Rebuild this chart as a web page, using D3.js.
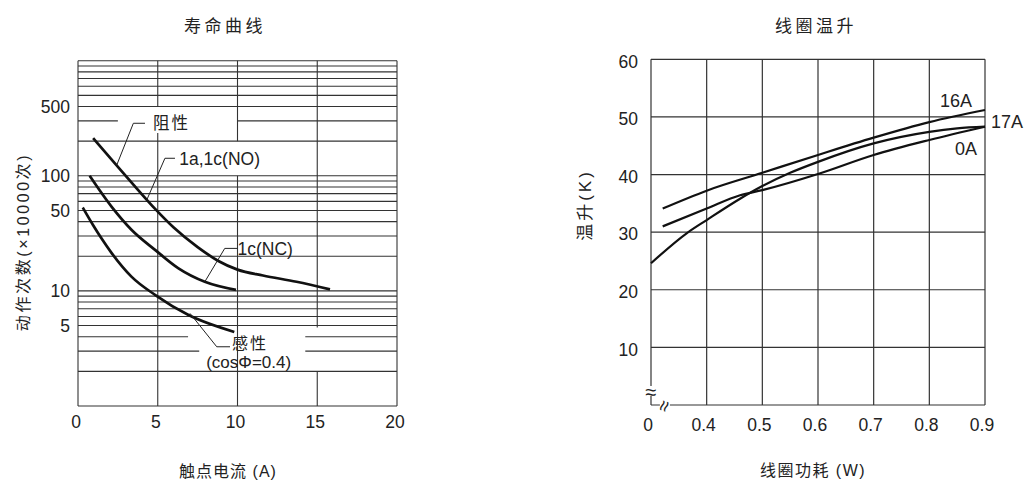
<!DOCTYPE html>
<html>
<head>
<meta charset="utf-8">
<script src="https://cdn.jsdelivr.net/npm/d3@7"></script>
<style>
  body { margin: 0; background: #fff; }
  text { font-family: "Liberation Sans", Arial, "Noto Sans CJK SC", sans-serif; fill: #222; }
</style>
</head>
<body>
<script>
// ---- left chart: 寿命曲线 ----
var lifeXTicks = [0, 5, 10, 15, 20];
var lifeYTicks = [5, 10, 50, 100, 400];
var lifeYTickLabels = ["5", "10", "50", "100", "500"];

var resistiveX = [0.95, 2.3, 3.5, 4.85, 6, 7.5, 8.8, 10, 11.6, 13.7, 15.8];
var resistiveY = [212, 129, 83, 51.3, 35.5, 24.0, 18.2, 15.3, 13.6, 12.0, 10.3];
var ncX = [0.73, 2.1, 3.35, 4.85, 6.3, 7.95, 9.9];
var ncY = [100, 54, 34, 22.6, 15.7, 12.0, 10.2];
var inductiveX = [0.3, 0.95, 1.5, 2.1, 3.35, 4.85, 6.9, 9.8];
var inductiveY = [53, 37.2, 28.2, 21.4, 13.3, 9.2, 6.2, 4.4];

// gaps in grid lines left for the labels
var hGaps = [{ v: 300, from: 2.5, to: 10 }, { v: 4, from: 6.9, to: 14.25 }, { v: 3, from: 7.6, to: 14.25 }];
var vGaps = [{ v: 5, from: 235, to: 400 }, { v: 10, from: 100, to: 200 }, { v: 15, from: 2, to: 4.8 }];

// ---- right chart: 线圈温升 ----
var riseXTicks = [0.3, 0.4, 0.5, 0.6, 0.7, 0.8, 0.9];
var riseXTickLabels = ["0", "0.4", "0.5", "0.6", "0.7", "0.8", "0.9"];
var riseYTicks = [10, 20, 30, 40, 50, 60];

var a16X = [0.321, 0.4, 0.5, 0.6, 0.7, 0.8, 0.9];
var a16Y = [34.1, 37.2, 40.3, 43.4, 46.4, 49.1, 51.2];
var a0X = [0.321, 0.4, 0.46, 0.5, 0.6, 0.7, 0.8, 0.9];
var a0Y = [31.0, 34.1, 36.4, 37.3, 40.1, 43.4, 46.0, 48.3];
var a17X = [0.3, 0.364, 0.4, 0.46, 0.5, 0.55, 0.6, 0.7, 0.8, 0.85, 0.9];
var a17Y = [24.6, 29.8, 32.1, 35.8, 38.0, 40.3, 42.2, 45.4, 47.4, 48.0, 48.3];

var svg = d3.select("body").append("svg")
  .attr("width", 1025)
  .attr("height", 482);

function zip(xs, ys) {
  return xs.map(function (x, i) { return [x, ys[i]]; });
}

// split [a,b] by gaps
function pieces(a, b, gaps) {
  var out = [], cur = a;
  gaps.sort(function (p, q) { return p.from - q.from; }).forEach(function (g) {
    out.push([cur, g.from]);
    cur = g.to;
  });
  out.push([cur, b]);
  return out;
}

var gridColor = "#333";

// ================= left =================
var xL = d3.scaleLinear().domain([0, 20]).range([78, 397]);
var yL = d3.scaleLog().domain([1, 1000]).range([406, 60.7]);
var gL = svg.append("g");

yL.ticks().forEach(function (v) {
  var gaps = hGaps.filter(function (g) { return g.v === v; });
  pieces(0, 20, gaps).forEach(function (p) {
    gL.append("line")
      .attr("x1", xL(p[0])).attr("x2", xL(p[1]))
      .attr("y1", yL(v)).attr("y2", yL(v))
      .attr("stroke", gridColor).attr("stroke-width", 1.1);
  });
});

lifeXTicks.forEach(function (v) {
  var gaps = vGaps.filter(function (g) { return g.v === v; });
  pieces(1, 1000, gaps).forEach(function (p) {
    gL.append("line")
      .attr("x1", xL(v)).attr("x2", xL(v))
      .attr("y1", yL(p[0])).attr("y2", yL(p[1]))
      .attr("stroke", gridColor).attr("stroke-width", 1.1);
  });
});

gL.selectAll(".xt").data(lifeXTicks).enter().append("text")
  .attr("x", function (d) { return xL(d) - 2; })
  .attr("y", 428)
  .attr("text-anchor", "middle")
  .attr("font-size", 17.5)
  .text(function (d) { return d; });

gL.selectAll(".yt").data(lifeYTicks).enter().append("text")
  .attr("x", 70)
  .attr("y", function (d) { return yL(d); })
  .attr("dy", "0.36em")
  .attr("text-anchor", "end")
  .attr("font-size", 17.5)
  .text(function (d, i) { return lifeYTickLabels[i]; });

var lineL = d3.line()
  .x(function (d) { return xL(d[0]); })
  .y(function (d) { return yL(d[1]); })
  .curve(d3.curveMonotoneX);

[zip(resistiveX, resistiveY), zip(ncX, ncY), zip(inductiveX, inductiveY)].forEach(function (s) {
  gL.append("path").attr("d", lineL(s))
    .attr("fill", "none").attr("stroke", "#111").attr("stroke-width", 2.7);
});

// leader lines
var leaders = [
  [[2.43, 124], [3.47, 286], [4.2, 286]],
  [[4.31, 61.6], [5.45, 142], [6.08, 142]],
  [[7.95, 12.0], [9.2, 23.4], [10, 23.4]],
  [[7.02, 6.38], [8.7, 3.27], [9.53, 3.27]]
];
var leaderLine = d3.line()
  .x(function (d) { return xL(d[0]); })
  .y(function (d) { return yL(d[1]); });
leaders.forEach(function (l) {
  gL.append("path").attr("d", leaderLine(l))
    .attr("fill", "none").attr("stroke", "#222").attr("stroke-width", 1);
});

gL.append("text").attr("x", xL(4.7)).attr("y", yL(286)).attr("dy", "0.36em")
  .attr("font-size", 16.5).attr("letter-spacing", 2).text("阻性");
gL.append("text").attr("x", xL(6.35)).attr("y", yL(142)).attr("dy", "0.36em")
  .attr("font-size", 17.5).text("1a,1c(NO)");
gL.append("text").attr("x", xL(10.0)).attr("y", yL(23.4)).attr("dy", "0.36em")
  .attr("font-size", 17.5).text("1c(NC)");
gL.append("text").attr("x", xL(9.65)).attr("y", 349)
  .attr("font-size", 16).attr("letter-spacing", 2).text("感性");
gL.append("text").attr("x", xL(10.7)).attr("y", 368)
  .attr("text-anchor", "middle").attr("font-size", 17).text("(cosΦ=0.4)");

gL.append("text").attr("x", 225).attr("y", 32)
  .attr("text-anchor", "middle").attr("font-size", 17).attr("letter-spacing", 3.5)
  .text("寿命曲线");
gL.append("text").attr("x", 228).attr("y", 477)
  .attr("text-anchor", "middle").attr("font-size", 16).attr("letter-spacing", 1)
  .text("触点电流 (A)");
gL.append("text")
  .attr("transform", "translate(29,242) rotate(-90)")
  .attr("text-anchor", "middle").attr("font-size", 16).attr("letter-spacing", 2.6)
  .text("动作次数(×10000次)");

// ================= right =================
var xR = d3.scaleLinear().domain([0.3, 0.9]).range([651, 985]);
var yR = d3.scaleLinear().domain([0, 60]).range([405, 59.3]);
var gR = svg.append("g");

[0].concat(riseYTicks).forEach(function (v) {
  gR.append("line")
    .attr("x1", xR(0.3)).attr("x2", xR(0.9))
    .attr("y1", yR(v)).attr("y2", yR(v))
    .attr("stroke", gridColor).attr("stroke-width", 1.2);
});
riseXTicks.forEach(function (v) {
  gR.append("line")
    .attr("x1", xR(v)).attr("x2", xR(v))
    .attr("y1", yR(0)).attr("y2", yR(60))
    .attr("stroke", gridColor).attr("stroke-width", 1.2);
});

gR.selectAll(".xt").data(riseXTicks).enter().append("text")
  .attr("x", function (d) { return xR(d) - 3; })
  .attr("y", 431)
  .attr("text-anchor", "middle")
  .attr("font-size", 17.5)
  .text(function (d, i) { return riseXTickLabels[i]; });

gR.selectAll(".yt").data(riseYTicks).enter().append("text")
  .attr("x", 638)
  .attr("y", function (d) { return yR(d) + 2; })
  .attr("dy", "0.36em")
  .attr("text-anchor", "end")
  .attr("font-size", 17.5)
  .text(function (d) { return d; });

// axis break marks
gR.append("rect").attr("x", xR(0.3) - 5).attr("y", yR(3.3)).attr("width", 10).attr("height", 10).attr("fill", "#fff");
gR.append("text").attr("x", xR(0.3)).attr("y", yR(2.2)).attr("dy", "0.35em")
  .attr("text-anchor", "middle").attr("font-size", 20).text("≈");
gR.append("rect").attr("x", xR(0.316)).attr("y", yR(0) - 5).attr("width", 10).attr("height", 10).attr("fill", "#fff");
gR.append("text")
  .attr("transform", "translate(" + xR(0.323) + "," + (yR(0) + 1) + ") rotate(-70)")
  .attr("dy", "0.35em")
  .attr("text-anchor", "middle").attr("font-size", 20).text("≈");

var lineR = d3.line()
  .x(function (d) { return xR(d[0]); })
  .y(function (d) { return yR(d[1]); })
  .curve(d3.curveMonotoneX);

[zip(a16X, a16Y), zip(a0X, a0Y), zip(a17X, a17Y)].forEach(function (s) {
  gR.append("path").attr("d", lineR(s))
    .attr("fill", "none").attr("stroke", "#111").attr("stroke-width", 2.2);
});

gR.append("text").attr("x", 956).attr("y", 107).attr("text-anchor", "middle")
  .attr("font-size", 18).text("16A");
gR.append("text").attr("x", 991).attr("y", 128)
  .attr("font-size", 18).text("17A");
gR.append("text").attr("x", 966).attr("y", 155).attr("text-anchor", "middle")
  .attr("font-size", 18).text("0A");

gR.append("text").attr("x", 816).attr("y", 32)
  .attr("text-anchor", "middle").attr("font-size", 17).attr("letter-spacing", 3.5)
  .text("线圈温升");
gR.append("text").attr("x", 813).attr("y", 476)
  .attr("text-anchor", "middle").attr("font-size", 16).attr("letter-spacing", 1.5)
  .text("线圈功耗 (W)");
gR.append("text")
  .attr("transform", "translate(591,205) rotate(-90)")
  .attr("text-anchor", "middle").attr("font-size", 17).attr("letter-spacing", 3)
  .text("温升(K)");
</script>
</body>
</html>
